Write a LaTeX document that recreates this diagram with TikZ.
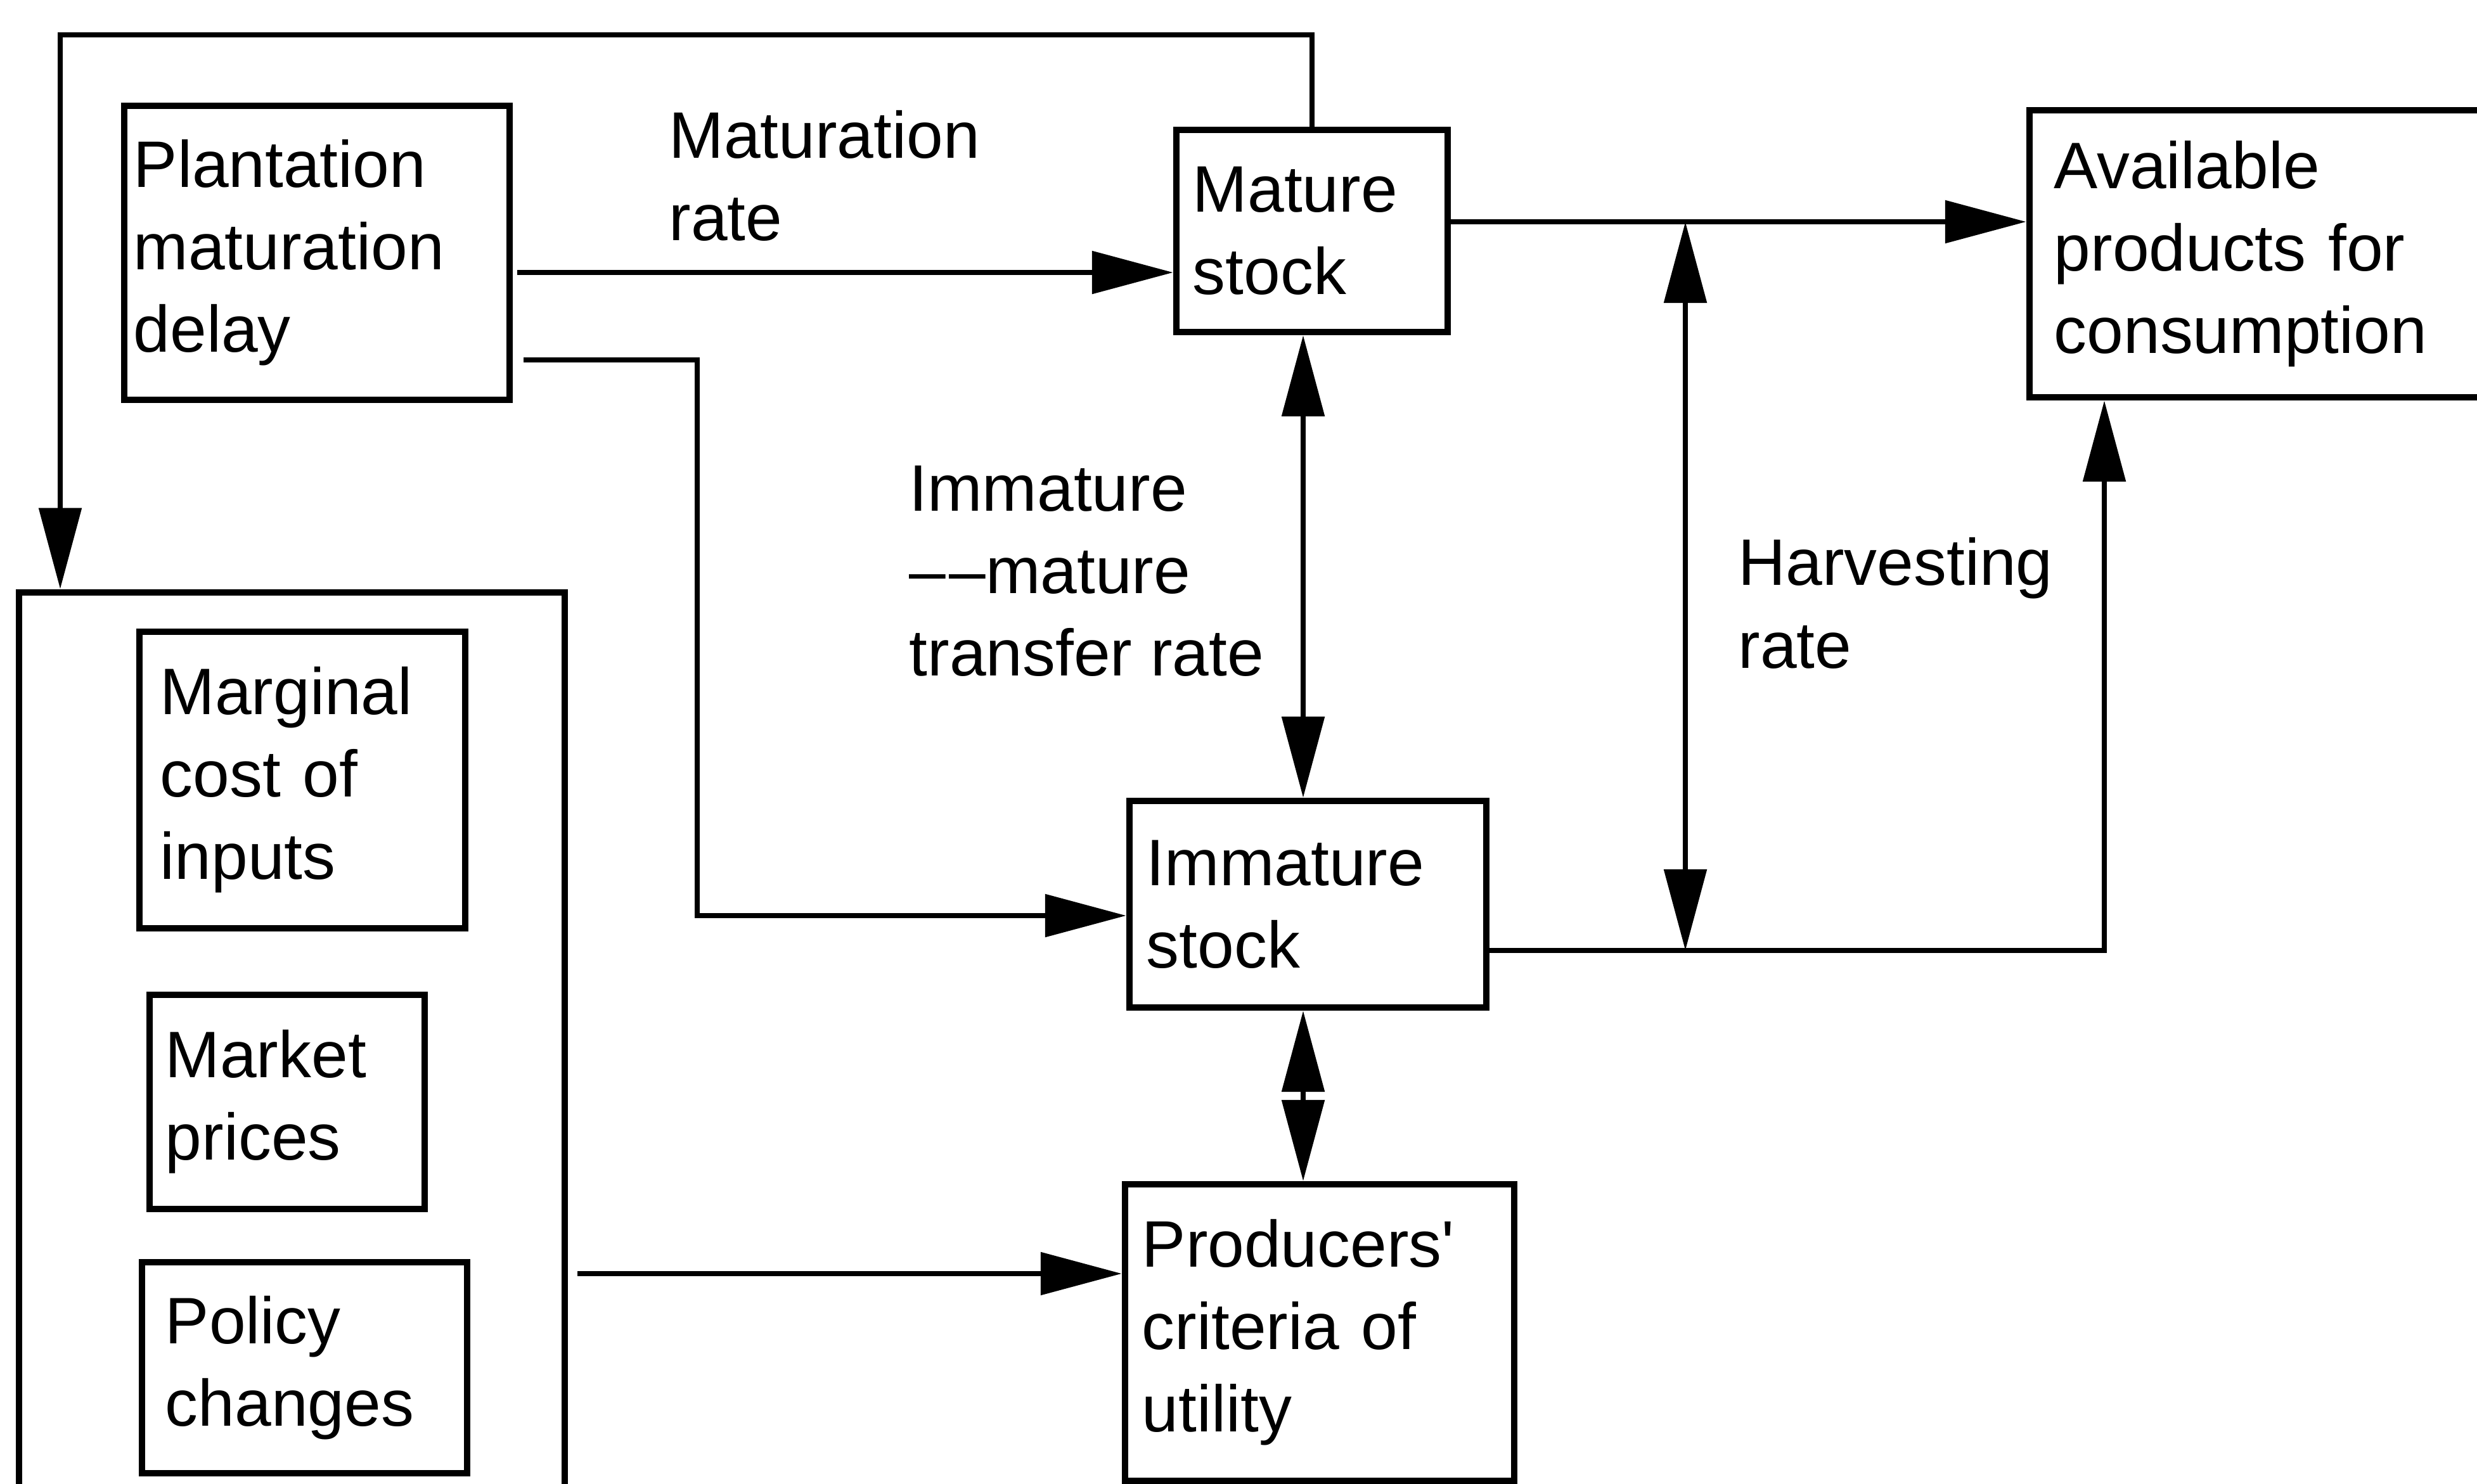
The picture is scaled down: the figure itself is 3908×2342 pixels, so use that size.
\documentclass[tikz,border=0pt]{standalone}
\usepackage{fontspec}
\setmainfont{Liberation Sans}
\usetikzlibrary{arrows.meta}
\begin{document}
\begin{tikzpicture}[x=0.01cm, y=-0.01cm,
  txt/.style={font=\fontsize{29.5pt}{37pt}\selectfont, align=left},
  box/.style={draw, line width=2.8pt, txt, inner ysep=0pt},
  lbl/.style={txt, inner sep=0pt, anchor=north west},
  conn/.style={line width=2.5pt},
  arr/.style={conn, -{Triangle[length=1.28cm, width=0.66cm]}},
  arrb/.style={conn, {Triangle[length=1.28cm, width=0.66cm]}-{Triangle[length=1.28cm, width=0.66cm]}},
]
\useasboundingbox (0,0) rectangle (3908,2342);

% boxes
\node[box, minimum width=6.08cm, minimum height=4.64cm, inner xsep=0.15cm, text width=5.78cm] (pl) at (500,399) {Plantation\\maturation\\delay};
\node[box, minimum width=4.28cm, minimum height=3.19cm, inner xsep=0.26cm, text width=3.76cm] (ms) at (2070,364.5) {Mature\\stock};
\node[box, minimum width=7.88cm, minimum height=4.53cm, inner xsep=0.39cm, text width=7.10cm] (ap) at (3596,400.5) {Available\\products for\\consumption};
\node[draw, line width=2.8pt, minimum width=8.61cm, minimum height=14.85cm, inner sep=0pt] (big) at (460.5,1677.5) {};
\node[box, minimum width=5.14cm, minimum height=4.68cm, inner xsep=0.33cm, text width=4.48cm] (mc) at (477,1231) {Marginal\\cost of\\inputs};
\node[box, minimum width=4.34cm, minimum height=3.38cm, inner xsep=0.25cm, text width=3.84cm] (mp) at (453,1739) {Market\\prices};
\node[box, minimum width=5.13cm, minimum height=3.33cm, inner xsep=0.37cm, text width=4.39cm] (pc) at (480.5,2158.5) {Policy\\changes};
\node[box, minimum width=5.63cm, minimum height=3.26cm, inner xsep=0.27cm, text width=5.09cm] (is) at (2063.5,1427) {Immature\\stock};
\node[box, minimum width=6.14cm, minimum height=4.68cm, inner xsep=0.27cm, text width=5.60cm] (pu) at (2082,2103) {Producers\textquotesingle\\criteria of\\utility};

% free labels
\node[lbl] (lmr) at (1055,174) {Maturation\\rate};
\node[lbl] (limt) at (1434,734) {Immature\\\textendash\kern1.5pt\textendash mature\\transfer rate};
\node[lbl] (lhr) at (2742,848) {Harvesting\\rate};

% routing points
\coordinate (tl) at (95,55);
\coordinate (a1) at (0,430);
\coordinate (k1) at (1100,568);
\coordinate (k2) at (1100,1445);
\coordinate (ha) at (2659,350);
\coordinate (hb) at (2659,1500);
\coordinate (k3) at (3320,1500);
\coordinate (vx) at (2056,0);
\coordinate (yb) at (0,2010);

% connectors
\draw[arr] (ms.north) |- (tl) -- (tl |- big.north);
\draw[arr, shorten <=0.07cm] (pl.east |- a1) -- (ms.west |- a1);
\draw[arr, shorten <=0.17cm] (pl.east |- k1) -- (k1) -- (k2) -- (is.west |- k2);
\draw[arr] (ms.east |- ha) -- (ap.west |- ha);
\draw[arrb] (ha) -- (hb);
\draw[arr] (is.east |- hb) -- (k3) -- (k3 |- ap.south);
\draw[arrb] (ms.south -| vx) -- (is.north -| vx);
\draw[arrb] (is.south -| vx) -- (pu.north -| vx);
\draw[arr, shorten <=0.15cm] (big.east |- yb) -- (pu.west |- yb);
\end{tikzpicture}
\end{document}
